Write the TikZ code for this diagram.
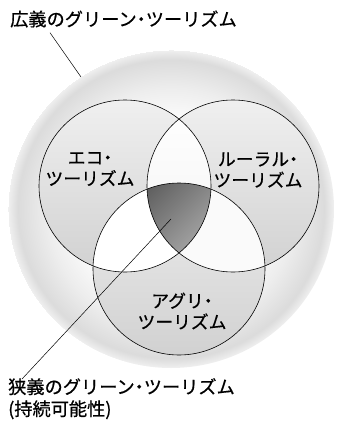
\documentclass[tikz,border=0pt]{standalone}
\usepackage{fontspec}
\setmainfont{Noto Sans CJK JP}[FakeBold=0.6, RawFeature=+halt]
\usepackage{tikz}
\usetikzlibrary{positioning}

\pgfdeclareradialshading{outerball}{\pgfpoint{0bp}{0bp}}{%
  color(0bp)=(white); color(13bp)=(white); color(19bp)=(gray!14);
  color(23.5bp)=(gray!28); color(25bp)=(gray!12)}

\begin{document}
\begin{tikzpicture}[
        x=1pt, y=-1pt,
        label/.style={font=\fontsize{17.8}{21}\selectfont, align=center, inner sep=0pt},
        caption/.style={font=\fontsize{18.2}{22}\selectfont, align=left, inner sep=0pt},
        ring/.style={draw=black, line width=0.6pt},
        leader/.style={draw=black, line width=0.5pt},
    ]
        \useasboundingbox (0,0) rectangle (340,428);

        % Centres of the circles
        \coordinate (O) at (171,209);
        \coordinate (L) at (125,186);
        \coordinate (R) at (233,186);
        \coordinate (B) at (179,269);

        % Outer ball
        \shade[shading=outerball] (O) ellipse [x radius=163, y radius=159];

        % The three sets
        \shade[top color=gray!12, bottom color=gray!36] (L) circle [radius=86];
        \shade[top color=gray!12, bottom color=gray!36] (R) circle [radius=86];
        \shade[top color=gray!14, bottom color=gray!36] (B) circle [radius=86];

        % Overlaps of two sets
        \begin{scope}
            \clip (L) circle [radius=86];
            \shade[top color=white, bottom color=gray!10] (R) circle [radius=86];
            \fill[white] (B) circle [radius=86];
        \end{scope}
        \begin{scope}
            \clip (R) circle [radius=86];
            \fill[gray!4] (B) circle [radius=86];
        \end{scope}

        % Overlap of all three
        \begin{scope}
            \clip (L) circle [radius=86];
            \clip (R) circle [radius=86];
            \shade[top color=gray!70!black, bottom color=gray!5, shading angle=45]
                (B) circle [radius=86];
        \end{scope}

        \draw[ring] (L) circle [radius=86];
        \draw[ring] (R) circle [radius=86];
        \draw[ring] (B) circle [radius=86];

        % Labels
        \node[label] (eco) at (90,169) {エコ・\\ツーリズム};
        \node[label] (rural) at (258,170) {ルーラル・\\ツーリズム};
        \node[label] (agri) at (182,311) {アグリ・\\ツーリズム};

        \node[caption, anchor=west] (wide) at (10,19) {広義のグリーン・ツーリズム};
        \node[caption, anchor=north west] (narrow) at (8,378)
            {狭義のグリーン・ツーリズム\\(持続可能性)};

        % Leaders
        \coordinate (wideEnd) at (81,77);
        \coordinate (narrowEnd) at (171,219);
        \draw[leader] ([xshift=40pt, yshift=-5pt]wide.south west) -- (wideEnd);
        \draw[leader] ([xshift=14pt, yshift=-1pt]narrow.north west) -- (narrowEnd);
    \end{tikzpicture}
\end{document}
